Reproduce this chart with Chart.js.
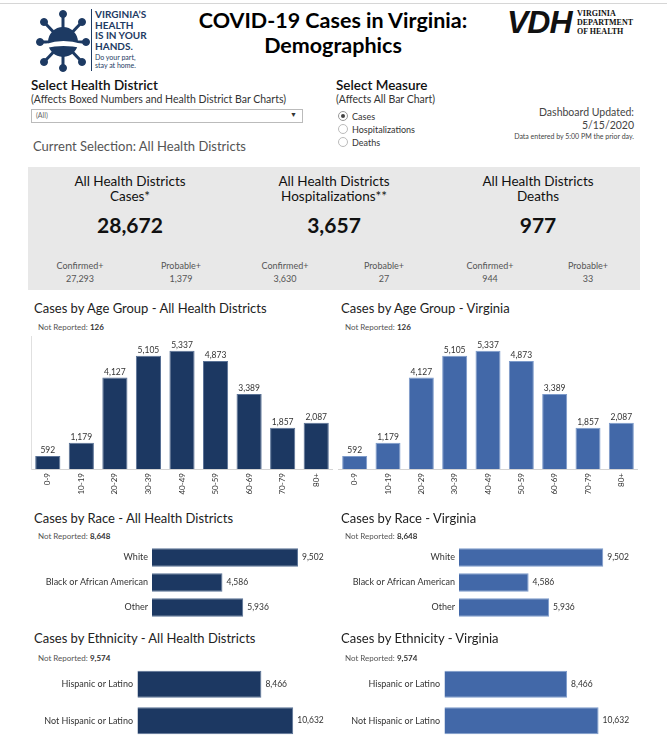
<!DOCTYPE html>
<html><head><meta charset="utf-8">
<script src="https://cdn.jsdelivr.net/npm/chart.js@4.4.0/dist/chart.umd.min.js"></script>
<style>
html,body{margin:0;padding:0;background:#fff;}
body{width:667px;height:752px;position:relative;overflow:hidden;font-family:Lato,"Open Sans",sans-serif;color:#222;}
.a{position:absolute;white-space:nowrap;}
.c{transform:translateX(-50%);text-align:center;}
.r{transform:translateX(-100%);text-align:right;}
canvas{position:absolute;}
</style></head>
<body>
<div class="a" style="left:0;top:3px;width:667px;height:1px;background:#d6d6d6"></div>

<!-- left logo -->
<svg class="a" style="left:36px;top:8px" width="56" height="64" viewBox="0 0 56 64">
  <g fill="#1d3a63" stroke="#1d3a63">
    <g stroke-width="3">
      <line x1="27" y1="34" x2="27" y2="6"/><line x1="27" y1="34" x2="8" y2="14"/><line x1="27" y1="34" x2="46" y2="14"/>
      <line x1="27" y1="34" x2="4" y2="34"/><line x1="27" y1="34" x2="50" y2="34"/><line x1="27" y1="34" x2="8" y2="54"/>
      <line x1="27" y1="34" x2="46" y2="54"/><line x1="27" y1="34" x2="27" y2="60"/>
    </g>
    <circle cx="27" cy="34" r="15" stroke="none"/>
    <circle cx="27" cy="6" r="3.5"/><circle cx="8" cy="14" r="3.5"/><circle cx="46" cy="14" r="3.5"/>
    <circle cx="4" cy="34" r="3.5"/><circle cx="50" cy="34" r="3.5"/><circle cx="8" cy="54" r="3.5"/>
    <circle cx="46" cy="54" r="3.5"/><circle cx="27" cy="60" r="3.5"/>
  </g>
  <path d="M10 36 Q27 30 46 36 L46 40 Q27 36 10 40Z" fill="#fff"/>
</svg>
<div class="a" style="left:91px;top:9px;width:1px;height:62px;background:#1d3a63"></div>
<div class="a" style="left:95px;top:9px;font:bold 10px/10.5px Lato;color:#1d3a63">VIRGINIA’S<br>HEALTH<br>IS IN YOUR<br>HANDS.</div>
<div class="a" style="left:95px;top:53px;font:7px/8px Lato;color:#1d3a63">Do your part,<br>stay at home.</div>

<!-- title -->
<div class="a c" style="left:333px;top:8px;font:bold 21.5px/25px Lato;color:#000">COVID-19 Cases in Virginia:<br>Demographics</div>

<!-- VDH logo -->
<div class="a" style="left:507px;top:5px;font:italic bold 32px/34px 'Liberation Sans',sans-serif;color:#111;letter-spacing:-1px">VDH</div>
<div class="a" style="left:577px;top:9px;font:bold 8px/9px 'Liberation Serif',serif;color:#111">VIRGINIA<br>DEPARTMENT<br>OF HEALTH</div>

<!-- selectors -->
<div class="a" style="left:31px;top:77px;font:600 13.5px Lato;color:#111">Select Health District</div>
<div class="a" style="left:31px;top:93px;font:10.5px Lato;color:#333">(Affects Boxed Numbers and Health District Bar Charts)</div>
<div class="a" style="left:31px;top:109px;width:270px;height:12px;border:1px solid #bbb;background:#fff"></div>
<div class="a" style="left:36px;top:111px;font:7px Lato;color:#666">(All)</div>
<div class="a" style="left:290px;top:110px;font:7px Lato;color:#333">▼</div>
<div class="a" style="left:33px;top:138px;font:13px Lato;color:#555">Current Selection: All Health Districts</div>

<div class="a" style="left:336px;top:77px;font:600 13.5px Lato;color:#111">Select Measure</div>
<div class="a" style="left:336px;top:93px;font:10.5px Lato;color:#333">(Affects All Bar Chart)</div>
<svg class="a" style="left:337px;top:110px" width="14" height="40">
  <circle cx="6" cy="6" r="4.5" fill="#fff" stroke="#999"/><circle cx="6" cy="6" r="2" fill="#444"/>
  <circle cx="6" cy="19" r="4.5" fill="#fff" stroke="#bbb"/>
  <circle cx="6" cy="32" r="4.5" fill="#fff" stroke="#bbb"/>
</svg>
<div class="a" style="left:352px;top:110px;font:9px/13px Lato;color:#333">Cases<br>Hospitalizations<br>Deaths</div>

<div class="a r" style="left:634px;top:106px;font:10.5px/13px Lato;color:#444">Dashboard Updated:<br>5/15/2020</div>
<div class="a r" style="left:634px;top:132px;font:7px Lato;color:#444">Data entered by 5:00 PM the prior day.</div>

<!-- gray summary box -->
<div class="a" style="left:28px;top:167px;width:612px;height:123px;background:#e8e8e8"></div>

<canvas id="ageL" width="302" height="164" style="left:31px;top:336px;width:302px;height:164px"></canvas>
<canvas id="ageR" width="300" height="164" style="left:338px;top:336px;width:300px;height:164px"></canvas>
<canvas id="raceL" width="321" height="75" style="left:30px;top:545px;width:321px;height:75px"></canvas>
<canvas id="raceR" width="320" height="75" style="left:336px;top:545px;width:320px;height:75px"></canvas>
<canvas id="ethL" width="328" height="73" style="left:30px;top:666px;width:328px;height:73px"></canvas>
<canvas id="ethR" width="327" height="73" style="left:336px;top:666px;width:327px;height:73px"></canvas>

<script>
// ---- data ----
const summaryHeads = ["Cases*", "Hospitalizations**", "Deaths"];
const summaryTotals = [28672, 3657, 977];
const summaryConfirmed = [27293, 3630, 944];
const summaryProbable = [1379, 27, 33];

const ageGroups = ["0-9","10-19","20-29","30-39","40-49","50-59","60-69","70-79","80+"];
const ageCases = [592, 1179, 4127, 5105, 5337, 4873, 3389, 1857, 2087];
const ageNotReported = 126;

const raceCats = ["White", "Black or African American", "Other"];
const raceCases = [9502, 4586, 5936];
const raceNotReported = 8648;

const ethCats = ["Hispanic or Latino", "Not Hispanic or Latino"];
const ethCases = [8466, 10632];
const ethNotReported = 9574;

const ageMax = 6000, raceMax = 11000, ethMax = 13000, ethGridStep = 5000;
const darkBlue = "#1c3862", midBlue = "#4268a8";

const fmt = v => v.toLocaleString("en-US");
function addDiv(html, style, cls){ const d=document.createElement("div"); d.className="a "+(cls||""); d.style.cssText=style; d.innerHTML=html; document.body.appendChild(d); }

// summary box
const sumX = [130, 334, 538], confX=[80,285,490], probX=[181,384,588];
summaryHeads.forEach((h,i)=>{
  addDiv("All Health Districts<br>"+h, `left:${sumX[i]}px;top:174px;font:13.5px/15px Lato;color:#111`, "c");
  addDiv(fmt(summaryTotals[i]), `left:${sumX[i]}px;top:212px;font:bold 21px Lato;color:#111`, "c");
  addDiv("Confirmed+<br>"+fmt(summaryConfirmed[i]), `left:${confX[i]}px;top:259px;font:9px/13px Lato;color:#555`, "c");
  addDiv("Probable+<br>"+fmt(summaryProbable[i]), `left:${probX[i]}px;top:259px;font:9px/13px Lato;color:#555`, "c");
});

// titles & not reported
const sections = [
  ["Cases by Age Group", 300, ageNotReported, 322],
  ["Cases by Race", 510, raceNotReported, 531],
  ["Cases by Ethnicity", 630, ethNotReported, 653]
];
sections.forEach(s=>{
  addDiv(s[0]+" - All Health Districts", `left:34px;top:${s[1]}px;font:13px Lato;color:#222`);
  addDiv(s[0]+" - Virginia", `left:341px;top:${s[1]}px;font:13px Lato;color:#222`);
  addDiv("Not Reported: <b style='color:#333'>"+fmt(s[2])+"</b>", `left:38px;top:${s[3]}px;font:8px Lato;color:#555`);
  addDiv("Not Reported: <b style='color:#333'>"+fmt(s[2])+"</b>", `left:345px;top:${s[3]}px;font:8px Lato;color:#555`);
});

// value label plugin
const valueLabels = {
  id: "valueLabels",
  afterDatasetsDraw(chart){
    const ctx = chart.ctx, meta = chart.getDatasetMeta(0), data = chart.data.datasets[0].data;
    ctx.save(); ctx.fillStyle = "#333"; ctx.font = "8.5px Lato";
    meta.data.forEach((el,i)=>{
      const s = fmt(data[i]);
      if (chart.options.indexAxis === "y") { ctx.textAlign="left"; ctx.textBaseline="middle"; ctx.fillText(s, el.x+4, el.y); }
      else { ctx.textAlign="center"; ctx.textBaseline="bottom"; ctx.fillText(s, el.x, el.y-1); }
    });
    ctx.restore();
  }
};
Chart.defaults.font.family = "Lato";

function ageChart(id, color, border, leftBorder){
  new Chart(document.getElementById(id), {
    type: "bar",
    data: { labels: ageGroups, datasets: [{ data: ageCases, backgroundColor: color, borderColor: border, borderWidth: 1, barPercentage: 0.75, categoryPercentage: 1 }] },
    options: {
      responsive: false, animation: false, layout: { padding: 0 },
      plugins: { legend: { display: false }, tooltip: { enabled: false } },
      scales: {
        x: { grid: { display: false, drawTicks: false }, border: { display: true, color: "#d4d4d4" },
             ticks: { minRotation: 90, maxRotation: 90, autoSkip: false, padding: 4, font: { size: 8 }, color: "#333" },
             afterFit: s => { s.height = 31; } },
        y: { min: 0, max: ageMax, ticks: { display: false }, grid: { display: false, drawTicks: false },
             border: { display: leftBorder, color: "#e0e0e0" }, afterFit: s => { s.width = 0; } }
      }
    },
    plugins: [valueLabels]
  });
}
ageChart("ageL", darkBlue, "#5a7296", true);
ageChart("ageR", midBlue, "#7d9bcb", false);

function hChart(id, cats, vals, max, color, border, labelW, grid){
  new Chart(document.getElementById(id), {
    type: "bar",
    data: { labels: cats, datasets: [{ data: vals, backgroundColor: color, borderColor: border, borderWidth: 1, barPercentage: 0.74, categoryPercentage: 1 }] },
    options: {
      indexAxis: "y", responsive: false, animation: false, layout: { padding: { top: 0, bottom: 0, left: 0, right: 30 } },
      plugins: { legend: { display: false }, tooltip: { enabled: false } },
      scales: {
        y: { grid: { display: false, drawTicks: false }, border: { display: false },
             ticks: { padding: 4, font: { size: 9 }, color: "#333" },
             afterFit: s => { s.width = labelW; s.paddingTop = 0; s.paddingBottom = 0; } },
        x: { min: 0, max: max, ticks: { display: false, stepSize: ethGridStep },
             grid: { display: grid, drawTicks: false,
                     color: c => (c.tick && c.tick.value > 0 && c.tick.value % ethGridStep === 0) ? "#ececec" : "rgba(0,0,0,0)" },
             border: { display: true, color: "#e4e4e4" },
             afterFit: s => { s.height = 0; s.paddingLeft = 0; s.paddingRight = 0; } }
      }
    },
    plugins: [valueLabels]
  });
}
hChart("raceL", raceCats, raceCases, raceMax, darkBlue, "#5a7296", 122, false);
hChart("raceR", raceCats, raceCases, raceMax, midBlue, "#7d9bcb", 123, false);
hChart("ethL", ethCats, ethCases, ethMax, darkBlue, "#5a7296", 107, true);
hChart("ethR", ethCats, ethCases, ethMax, midBlue, "#7d9bcb", 108, true);
</script>
</body></html>
